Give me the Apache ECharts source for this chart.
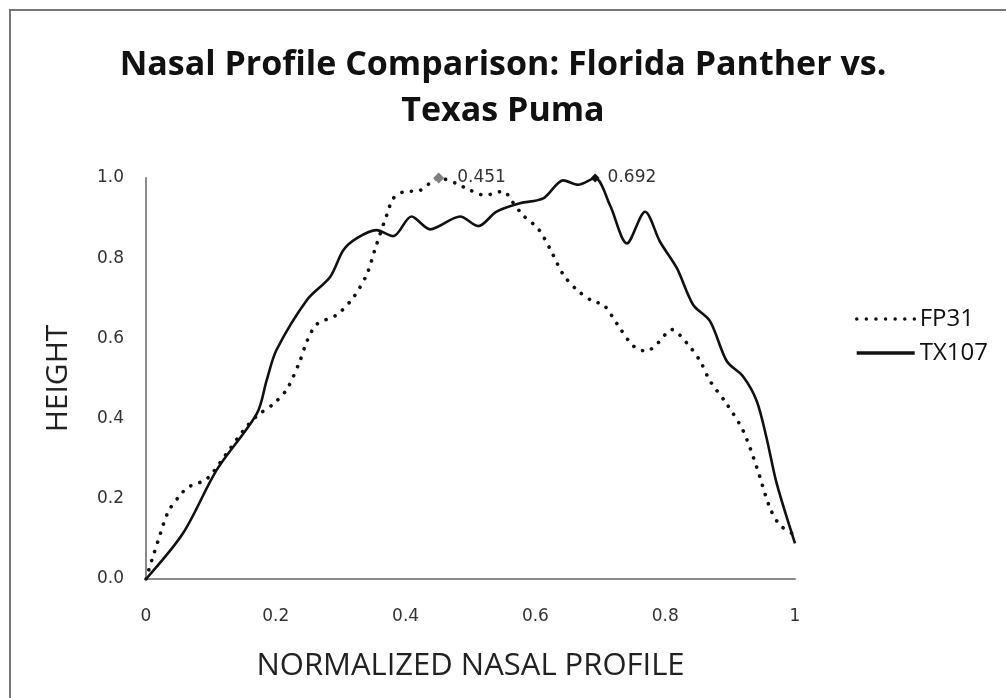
<!DOCTYPE html>
<html>
<head>
<meta charset="utf-8">
<script src="https://cdn.jsdelivr.net/npm/echarts@6/dist/echarts.min.js"></script>
<style>
html, body { margin: 0; padding: 0; background: #fff; }
#main { width: 1006px; height: 698px; }
</style>
</head>
<body>
<div id="main"></div>
<script>
// FP31 (dotted) profile
var fpX = [0, 0.009, 0.019, 0.034, 0.052, 0.065, 0.094, 0.122, 0.150, 0.171, 0.196, 0.217, 0.237, 0.248, 0.263, 0.294, 0.319, 0.340, 0.355, 0.371, 0.381, 0.396, 0.422, 0.451, 0.479, 0.494, 0.522, 0.551, 0.563, 0.581, 0.604, 0.622, 0.643, 0.664, 0.689, 0.705, 0.730, 0.751, 0.771, 0.789, 0.810, 0.833, 0.854, 0.869, 0.895, 0.920, 0.941, 0.961, 0.977, 1.0];
var fpY = [0, 0.047, 0.097, 0.167, 0.208, 0.229, 0.250, 0.308, 0.370, 0.407, 0.436, 0.473, 0.543, 0.593, 0.635, 0.659, 0.701, 0.759, 0.833, 0.908, 0.949, 0.965, 0.969, 1.0, 0.986, 0.974, 0.957, 0.967, 0.944, 0.907, 0.874, 0.825, 0.759, 0.721, 0.692, 0.684, 0.626, 0.581, 0.568, 0.589, 0.622, 0.589, 0.543, 0.494, 0.436, 0.370, 0.279, 0.179, 0.134, 0.11];

// TX107 (solid)
var txX = [0, 0.057, 0.109, 0.171, 0.186, 0.201, 0.248, 0.284, 0.304, 0.325, 0.355, 0.381, 0.409, 0.438, 0.484, 0.512, 0.540, 0.576, 0.612, 0.643, 0.666, 0.692, 0.715, 0.741, 0.769, 0.792, 0.818, 0.843, 0.869, 0.895, 0.920, 0.941, 0.956, 0.972, 1.0];
var txY = [0, 0.114, 0.272, 0.413, 0.496, 0.571, 0.696, 0.754, 0.820, 0.850, 0.870, 0.855, 0.904, 0.872, 0.904, 0.880, 0.916, 0.937, 0.949, 0.994, 0.983, 1.0, 0.932, 0.837, 0.916, 0.841, 0.775, 0.684, 0.643, 0.543, 0.505, 0.444, 0.353, 0.237, 0.089];

// peaks
var fpPeak = [0.451, 1.0];
var txPeak = [0.692, 1.0];

function pairs(xs, ys) {
	var out = [];
	for (var i = 0; i < xs.length; i++) {
		out.push([xs[i], ys[i]]);
	}
	return out;
}

var myChart = echarts.init(document.getElementById('main'));
var tickFont = 'DejaVu Sans';
var bodyFont = 'Open Sans, sans-serif';

option = {
	animation: false,
	backgroundColor: '#fff',
	title: {
		text: 'Nasal Profile Comparison: Florida Panther vs.\nTexas Puma',
		left: 'center',
		top: 37,
		textStyle: {
			fontFamily: bodyFont,
			fontWeight: 'bold',
			fontSize: 34,
			lineHeight: 46,
			color: '#111'
		}
	},
	graphic: [{
		type: 'rect',
		shape: { x: 10, y: 10, width: 1100, height: 800 },
		style: { fill: 'none', stroke: '#777', lineWidth: 2 },
		silent: true
	}],
	legend: {
		orient: 'vertical',
		left: 850,
		top: 302,
		itemWidth: 58,
		itemHeight: 14,
		itemGap: 10,
		itemStyle: { opacity: 0 },
		lineStyle: { width: 3.4 },
		textStyle: { fontFamily: bodyFont, fontSize: 24, color: '#111' },
		data: ['FP31', 'TX107']
	},
	grid: {
		left: 146,
		right: 211,
		top: 178,
		bottom: 119
	},
	xAxis: {
		type: 'value',
		min: 0,
		max: 1,
		interval: 0.2,
		name: 'NORMALIZED NASAL PROFILE',
		nameLocation: 'middle',
		nameGap: 72,
		nameTextStyle: { fontFamily: bodyFont, fontSize: 31, color: '#222' },
		axisLine: { lineStyle: { color: '#8a8a8a', width: 2 } },
		axisTick: { show: false },
		splitLine: { show: false },
		axisLabel: { fontFamily: tickFont, fontSize: 17, color: '#333', margin: 29 }
	},
	yAxis: {
		type: 'value',
		min: 0,
		max: 1,
		interval: 0.2,
		name: 'HEIGHT',
		nameLocation: 'middle',
		nameGap: 73,
		nameTextStyle: { fontFamily: bodyFont, fontSize: 30, color: '#222' },
		axisLine: { show: true, lineStyle: { color: '#8a8a8a', width: 2 } },
		axisTick: { show: false },
		splitLine: { show: false },
		axisLabel: {
			fontFamily: tickFont, fontSize: 17, color: '#333', margin: 22,
			formatter: function (v) { return v.toFixed(1); }
		}
	},
	series: [
		{
			name: 'FP31',
			type: 'line',
			data: pairs(fpX, fpY),
			smooth: 0.3,
			symbol: 'none',
			lineStyle: { color: '#111', width: 3.6, type: [0.1, 9.5], cap: 'round' },
			itemStyle: { color: '#111' },
			markPoint: {
				symbol: 'diamond',
				symbolSize: 11,
				itemStyle: { color: '#808080' },
				label: {
					show: true, position: 'right', distance: 13,
					fontFamily: tickFont, fontSize: 17, color: '#333',
					formatter: function () { return fpPeak[0].toFixed(3); }
				},
				data: [{ coord: fpPeak }]
			}
		},
		{
			name: 'TX107',
			type: 'line',
			data: pairs(txX, txY),
			smooth: 0.3,
			symbol: 'none',
			lineStyle: { color: '#111', width: 2.6 },
			itemStyle: { color: '#111' },
			markPoint: {
				symbol: 'diamond',
				symbolSize: 9,
				itemStyle: { color: '#111' },
				label: {
					show: true, position: 'right', distance: 8,
					fontFamily: tickFont, fontSize: 17, color: '#333',
					formatter: function () { return txPeak[0].toFixed(3); }
				},
				data: [{ coord: txPeak }]
			}
		}
	]
};

myChart.setOption(option);
</script>
</body>
</html>
